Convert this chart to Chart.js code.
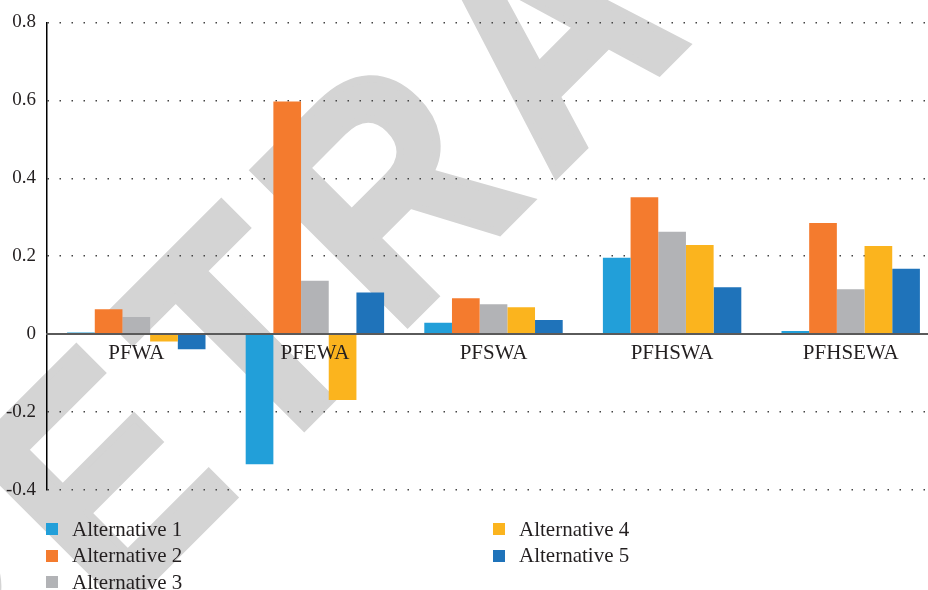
<!DOCTYPE html>
<html lang="en">
  <head>
    <meta charset="UTF-8" />
    <title>Alternatives chart</title>
    <script src="https://cdn.jsdelivr.net/npm/chart.js"></script>
    <style>
      body {
        margin: 0;
        overflow: hidden;
        background: #ffffff;
      }
      .janela {
        position: relative;
        width: 928px;
        height: 590px;
        overflow: hidden;
      }
      #legenda {
        position: absolute;
        left: 46px;
        top: 516px;
        display: grid;
        grid-template-rows: repeat(3, 26.5px);
        grid-template-columns: 447px 300px;
        grid-auto-flow: column;
        font-family: "Liberation Serif", serif;
        font-size: 21px;
        color: #231f20;
      }
      .item {
        display: flex;
        align-items: center;
        white-space: nowrap;
      }
      .caixa {
        width: 12px;
        height: 12px;
        margin-right: 14px;
      }
    </style>
  </head>

  <body>
    <div class="janela">
      <canvas id="myChart" width="940" height="590" style="width: 940px; height: 590px"></canvas>
      <div id="legenda"></div>
    </div>

    <script>
      // data
      var categorias = ["PFWA", "PFEWA", "PFSWA", "PFHSWA", "PFHSEWA"];
      var nomes = ["Alternative 1", "Alternative 2", "Alternative 3", "Alternative 4", "Alternative 5"];
      var alternativa1 = [0.004, -0.334, 0.029, 0.196, 0.008];
      var alternativa2 = [0.064, 0.597, 0.092, 0.351, 0.285];
      var alternativa3 = [0.044, 0.137, 0.077, 0.263, 0.115];
      var alternativa4 = [-0.019, -0.169, 0.069, 0.229, 0.226];
      var alternativa5 = [-0.039, 0.107, 0.036, 0.12, 0.168];
      var cores = ["#229fd9", "#f47b2e", "#b2b3b6", "#fbb41e", "#1f73ba"];
      var ticksY = [-0.4, -0.2, 0, 0.2, 0.4, 0.6, 0.8];

      var series = [alternativa1, alternativa2, alternativa3, alternativa4, alternativa5];

      // big grey watermark behind everything
      const marcaDagua = {
        id: "marcaDagua",
        beforeDraw(chart) {
          const ctx = chart.ctx;
          const texto = "RETRACTED";
          ctx.save();
          ctx.translate(-45, 776);
          ctx.rotate(-Math.PI / 4);
          ctx.scale(0.87, 1);
          ctx.font = 'bold 315px "Liberation Sans"';
          ctx.fillStyle = "#d4d4d4";
          ctx.strokeStyle = "#d4d4d4";
          ctx.lineWidth = 8;
          ctx.lineJoin = "miter";
          var x = 0;
          for (var k = 0; k < texto.length; k++) {
            ctx.fillText(texto[k], x, 0);
            ctx.strokeText(texto[k], x, 0);
            x += ctx.measureText(texto[k]).width + 28;
          }
          ctx.restore();
        },
      };

      const dados = {
        labels: categorias,
        datasets: [],
      };

      for (var i = 0; i < series.length; i++) {
        dados.datasets.push({
          label: nomes[i],
          data: series[i],
          backgroundColor: cores[i],
          borderWidth: 0,
          categoryPercentage: 0.775,
          barPercentage: 1.0,
        });
      }

      const config = {
        type: "bar",
        data: dados,
        plugins: [marcaDagua],
        options: {
          responsive: false,
          animation: false,
          layout: {
            padding: { top: 17, bottom: 100, left: 0, right: 0 },
          },
          plugins: {
            legend: { display: false },
            tooltip: { enabled: false },
          },
          scales: {
            x: {
              position: { y: 0 },
              grid: { display: false, drawTicks: false },
              border: { display: true, color: "#5a5a5a", width: 2, z: 1 },
              ticks: {
                z: 1,
                padding: 7,
                color: "#231f20",
                font: { family: "Liberation Serif", size: 21 },
              },
            },
            y: {
              min: ticksY[0],
              max: ticksY[ticksY.length - 1],
              afterFit: function (scale) {
                scale.width = 47;
              },
              afterBuildTicks: function (scale) {
                scale.ticks = ticksY.map(function (v) {
                  return { value: v };
                });
              },
              grid: {
                color: "#444444",
                lineWidth: 1.5,
                drawTicks: false,
              },
              border: { display: true, color: "#000000", width: 1.5, dash: [1.5, 10.5] },
              ticks: {
                padding: 11,
                color: "#231f20",
                font: { family: "Liberation Serif", size: 19 },
                callback: function (v) {
                  return String(Math.round(v * 10) / 10);
                },
              },
            },
          },
        },
      };

      var myChart = new Chart(document.getElementById("myChart"), config);

      // legend in two columns, built from the datasets
      var legenda = document.getElementById("legenda");
      myChart.data.datasets.forEach(function (ds) {
        var item = document.createElement("div");
        item.className = "item";
        item.innerHTML =
          '<span class="caixa" style="background:' + ds.backgroundColor + '"></span>' + ds.label;
        legenda.appendChild(item);
      });
    </script>
  </body>
</html>
